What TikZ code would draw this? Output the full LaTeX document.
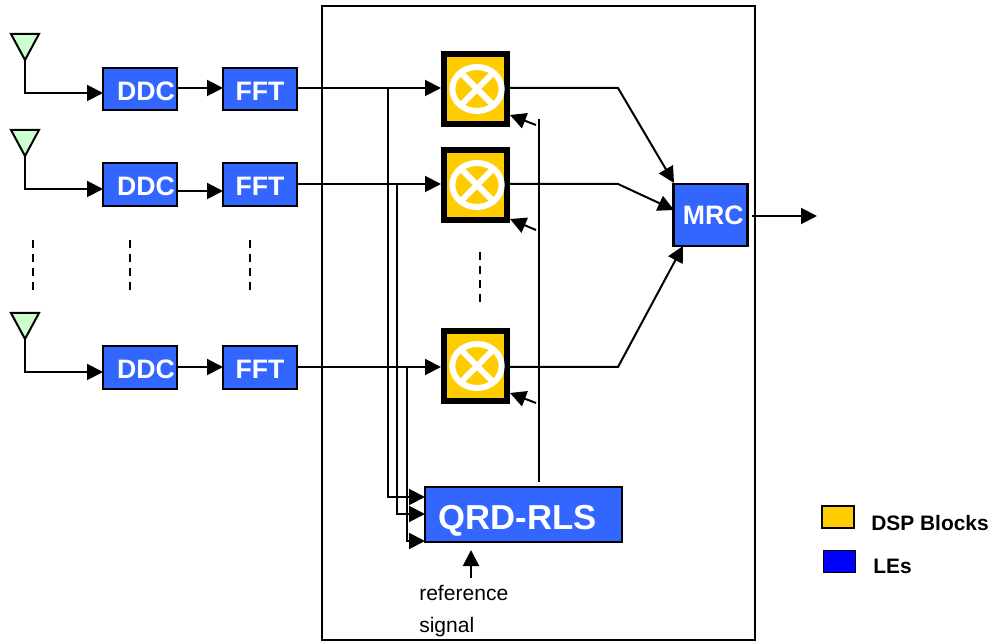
\documentclass[tikz,border=0pt]{standalone}
\usepackage{fontspec}
\setmainfont{Liberation Sans}
\usetikzlibrary{arrows.meta,shapes.geometric}
\definecolor{leblue}{HTML}{3366FF}
\definecolor{dspyellow}{HTML}{FFCC00}
\definecolor{antgreen}{HTML}{CCFFCC}
\newcommand{\lowlabel}[1]{\raisebox{-1.4pt}[14.3pt][0pt]{#1}}
\tikzset{
  x=0.75pt,y=-0.75pt,
  tip/.tip={Triangle[length=12pt,width=12pt]},
  conn/.style={line width=1.5pt,-tip},
  wire/.style={line width=1.5pt},
  antenna/.style={draw=black,fill=antgreen,line width=1.5pt,line join=miter},
  bluebox/.style={draw=black,fill=leblue,text=white,line width=1.6pt,outer sep=0pt,inner sep=0pt,font=\fontsize{20pt}{24pt}\bfseries},
  dbox/.style={bluebox,minimum width=55.5pt,minimum height=32pt},
  multbox/.style={draw=black,fill=dspyellow,line width=4.5pt,minimum width=47.5pt,minimum height=52.5pt,outer sep=0pt,inner sep=0pt},
  ring/.style={ellipse,draw=white,line width=4.5pt,minimum width=37pt,minimum height=33pt,inner sep=0pt,outer sep=0pt},
  xbar/.style={draw=white,line width=4.5pt},
  dots/.style={line width=1.2pt,dash pattern=on 5.8pt off 4.7pt},
  small/.style={font=\fontsize{15.8pt}{18pt}\selectfont,anchor=base west,inner sep=0pt},
  legendtext/.style={font=\fontsize{15.7pt}{18pt}\bfseries,anchor=base west,inner sep=0pt},
}
\begin{document}
\begin{tikzpicture}
\useasboundingbox (0,0) rectangle (989,641);
\fill[white] (0,0) rectangle (989,641);

% frame
\node[draw=black,line width=1.2pt,minimum width=324.5pt,minimum height=475.5pt,inner sep=0pt] (frame) at (538.5,323) {};

% antennas
\coordinate (ant1) at (25,60);
\coordinate (ant2) at (25,156);
\coordinate (ant3) at (25,339);
\draw[antenna] (11,34) -- (39,34) -- (ant1) -- cycle;
\draw[antenna] (11,130) -- (39,130) -- (ant2) -- cycle;
\draw[antenna] (11,313) -- (39,313) -- (ant3) -- cycle;

% DDC and FFT
\node[dbox] (ddc1) at (140,89) {\lowlabel{\hspace{9pt}DDC}};
\node[dbox] (fft1) at (260,89) {\lowlabel{FFT}};
\node[dbox] (ddc2) at (140,184.5) {\lowlabel{\hspace{9pt}DDC}};
\node[dbox] (fft2) at (260,184.5) {\lowlabel{FFT}};
\node[dbox] (ddc3) at (140,367.5) {\lowlabel{\hspace{9pt}DDC}};
\node[dbox] (fft3) at (260,367.5) {\lowlabel{FFT}};

% multipliers
\foreach \n/\y in {1/89,2/185,3/366}{
  \node[multbox] (mult\n) at (475.5,\y) {};
  \node[ring] (ring\n) at (477,\y) {};
  \draw[xbar] (ring\n.45) -- (ring\n.225);
  \draw[xbar] (ring\n.135) -- (ring\n.315);
}

% MRC, QRD-RLS
\node[bluebox,minimum width=55.5pt,minimum height=46.5pt] (mrc) at (710.5,215) {\hspace{4pt}MRC};
\node[bluebox,minimum width=148pt,minimum height=41.5pt,font=\fontsize{26pt}{30pt}\bfseries] (qrd) at (523.5,514.5) {\raisebox{-2.2pt}[18.6pt][0pt]{QRD-RLS\hspace{9pt}}};

% antenna feeds
\coordinate (d1in) at (103,93);
\coordinate (d2in) at (103,189);
\coordinate (d3in) at (103,372);
\draw[conn] (ant1) |- (d1in);
\draw[conn] (ant2) |- (d2in);
\draw[conn] (ant3) |- (d3in);

% DDC to FFT
\draw[conn] (177,88) -- (223,88);
\draw[conn] (177,191) -- (223,191);
\draw[conn] (177,367) -- (223,367);

% FFT to multipliers
\coordinate (m1in) at (441,88);
\coordinate (m2in) at (441,184);
\coordinate (m3in) at (441,367);
\draw[conn] (298,88) -- (m1in);
\draw[conn] (298,184) -- (m2in);
\draw[conn] (298,367) -- (m3in);

% taps to QRD-RLS
\coordinate (q1) at (425,497);
\coordinate (q2) at (425,514);
\coordinate (q3) at (425,541);
\draw[conn] (388,88) |- (q1);
\draw[conn] (397,184) |- (q2);
\draw[conn] (407,367) |- (q3);

% weights back to multipliers
\coordinate (fbtop) at (539,119);
\coordinate (fbbot) at (539,482);
\draw[wire] (fbbot) -- (fbtop);
\coordinate (w1) at (536,125);
\coordinate (w2) at (536,230);
\coordinate (w3) at (536,403);
\coordinate (m1w) at (510,115);
\coordinate (m2w) at (510,219);
\coordinate (m3w) at (510,393);
\draw[conn] (w1) -- (m1w);
\draw[conn] (w2) -- (m2w);
\draw[conn] (w3) -- (m3w);

% multipliers to MRC
\coordinate (b1) at (618,88);
\coordinate (b2) at (618,184);
\coordinate (b3) at (618,367);
\draw[conn] (510,88) -- (b1) -- (674,183);
\draw[conn] (510,184) -- (b2) -- (674,210);
\draw[conn] (510,367) -- (b3) -- (683,246);

% MRC output
\coordinate (mrcoutstart) at (752,216);
\coordinate (mrcout) at (817,216);
\draw[conn] (mrcoutstart) -- (mrcout);

% reference signal
\node[small] (refa) at (419,600) {reference};
\node[small] (refb) at (419,632) {signal};
\draw[conn] (471,578) -- (471,550);

% dashed continuation
\draw[dots] (33,240) -- (33,291);
\draw[dots] (130,240) -- (130,291);
\draw[dots] (250,240) -- (250,291);
\draw[dots] (480,252) -- (480,303);

% legend
\node[draw=black,fill=dspyellow,line width=1.2pt,minimum width=24pt,minimum height=16.5pt,inner sep=0pt] (lg1) at (838,517) {};
\node[draw=black,fill=blue,line width=1.2pt,minimum width=24pt,minimum height=16.5pt,inner sep=0pt] (lg2) at (839.5,561.5) {};
\node[legendtext] (lt1) at (871,530) {DSP Blocks};
\node[legendtext] (lt2) at (873,573) {LEs};
\end{tikzpicture}
\end{document}
